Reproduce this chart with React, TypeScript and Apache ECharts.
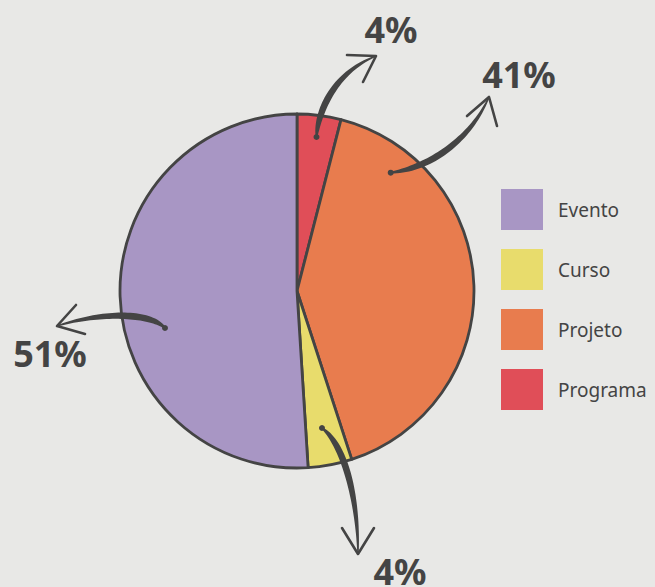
import React, { useEffect, useRef } from "react";
import * as echarts from "echarts";

// Slices in clockwise order from 12 o'clock
const categories = ["Programa", "Projeto", "Curso", "Evento"];
const values = [4, 41, 4, 51];
const sliceColors = ["#e04e58", "#e87c4e", "#e8dc6c", "#a896c4"];
const legendOrder = ["Evento", "Curso", "Projeto", "Programa"];

// Decorative annotation arrows (cubic bezier: start dot, c1, c2, tip) and label anchors
const annotations = [
  { name: "Programa", curve: [[316.5, 137], [318, 110], [335, 72], [376, 56]], wings: [[347, 55], [363, 82]], label: [391, 29] },
  { name: "Projeto", curve: [[390.7, 172.7], [430, 168], [470, 140], [489, 97]], wings: [[467, 116], [497, 126]], label: [519, 74] },
  { name: "Evento", curve: [[165, 328], [150, 312], [100, 312], [57, 326]], wings: [[76, 305], [85, 334]], label: [50, 353] },
  { name: "Curso", curve: [[322, 428], [345, 445], [358, 500], [358, 554]], wings: [[342, 528], [374, 528]], label: [400, 571] },
];

const INK = "#444444";

function bez(p: number[][], t: number) {
  const u = 1 - t;
  const a = u * u * u, b = 3 * u * u * t, c = 3 * u * t * t, d = t * t * t;
  return [
    a * p[0][0] + b * p[1][0] + c * p[2][0] + d * p[3][0],
    a * p[0][1] + b * p[1][1] + c * p[2][1] + d * p[3][1],
  ];
}

function taperedShaft(p: number[][]) {
  const n = 40;
  const left: number[][] = [];
  const right: number[][] = [];
  for (let i = 0; i <= n; i++) {
    const t = i / n;
    const pt = bez(p, t);
    const a = bez(p, Math.max(0, t - 0.01));
    const b = bez(p, Math.min(1, t + 0.01));
    let dx = b[0] - a[0], dy = b[1] - a[1];
    const len = Math.hypot(dx, dy) || 1;
    dx /= len; dy /= len;
    const w = 0.7 + 2.6 * Math.sin(Math.PI * Math.pow(t, 0.75));
    left.push([pt[0] - dy * w, pt[1] + dx * w]);
    right.push([pt[0] + dy * w, pt[1] - dx * w]);
  }
  return left.concat(right.reverse());
}

export default function App() {
  const ref = useRef<HTMLDivElement>(null);
  useEffect(() => {
    if (!ref.current) return;
    const chart = echarts.init(ref.current, undefined, { renderer: "svg" });
    const total = values.reduce((s, v) => s + v, 0);
    const graphics: any[] = [];
    annotations.forEach((a) => {
      const idx = categories.indexOf(a.name);
      const pct = Math.round((values[idx] / total) * 100);
      graphics.push({
        type: "polygon",
        shape: { points: taperedShaft(a.curve) },
        style: { fill: INK },
        z: 10,
      });
      graphics.push({
        type: "polyline",
        shape: { points: [a.wings[0], a.curve[3], a.wings[1]] },
        style: { stroke: INK, lineWidth: 2.6, fill: null, lineCap: "round", lineJoin: "round" },
        z: 10,
      });
      graphics.push({
        type: "circle",
        shape: { cx: a.curve[0][0], cy: a.curve[0][1], r: 3 },
        style: { fill: INK },
        z: 10,
      });
      graphics.push({
        type: "text",
        x: a.label[0],
        y: a.label[1],
        style: {
          text: pct + "%",
          fill: INK,
          font: "bold 36px 'Noto Sans'",
          align: "center",
          verticalAlign: "middle",
        },
        z: 10,
      });
    });

    chart.setOption({
      animation: false,
      backgroundColor: "#e8e8e6",
      legend: {
        data: legendOrder,
        orient: "vertical",
        left: 501,
        top: 189,
        padding: 0,
        itemWidth: 42,
        itemHeight: 41,
        itemGap: 19,
        icon: "rect",
        itemStyle: { borderWidth: 0 },
        selectedMode: false,
        textStyle: { color: INK, fontSize: 19, fontFamily: "Noto Sans", padding: [0, 0, 0, 10] },
      },
      series: [
        {
          type: "pie",
          center: [297, 291],
          radius: [0, 177],
          startAngle: 90,
          clockwise: true,
          silent: true,
          label: { show: false },
          labelLine: { show: false },
          itemStyle: { borderColor: INK, borderWidth: 2.8 },
          data: categories.map((c, i) => ({ name: c, value: values[i], itemStyle: { color: sliceColors[i] } })),
        },
      ],
      graphic: graphics,
    });
    return () => chart.dispose();
  }, []);
  return (
    <div
      ref={ref}
      style={{ position: "fixed", left: 0, top: 0, width: 655, height: 587 }}
    />
  );
}
